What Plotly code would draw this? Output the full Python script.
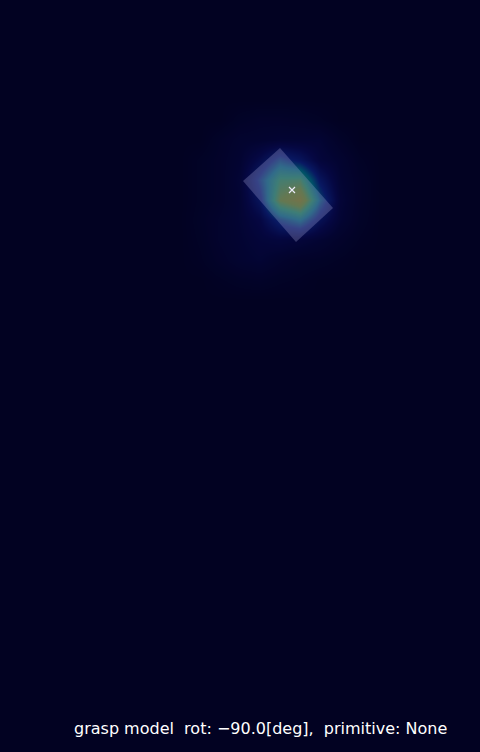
import plotly.graph_objects as go

# heat-map grid (pixel coordinates of the camera image)
grid_x = [180, 200, 220, 240, 260, 280, 300, 320, 340, 360, 380]
grid_y = [100, 120, 140, 160, 180, 200, 220, 240, 260, 280, 300]
heat = [
    [0, 0, 0, 0, 0, 0, 0, 0, 0, 0, 0],
    [0, 0, 0, 0.04, 0.06, 0.06, 0.05, 0.03, 0, 0, 0],
    [0, 0, 0.05, 0.09, 0.10, 0.12, 0.12, 0.12, 0.05, 0, 0],
    [0, 0.03, 0.06, 0.11, 0.24, 0.42, 0.32, 0.16, 0.10, 0.03, 0],
    [0, 0.03, 0.06, 0.13, 0.40, 0.68, 0.70, 0.32, 0.12, 0.05, 0],
    [0, 0.03, 0.06, 0.12, 0.32, 0.80, 0.94, 0.46, 0.14, 0.05, 0],
    [0, 0.04, 0.08, 0.12, 0.20, 0.40, 0.50, 0.28, 0.12, 0.04, 0],
    [0, 0.03, 0.08, 0.11, 0.15, 0.17, 0.15, 0.11, 0.06, 0.02, 0],
    [0, 0.02, 0.06, 0.10, 0.12, 0.08, 0.05, 0.04, 0.02, 0, 0],
    [0, 0, 0.02, 0.04, 0.05, 0.03, 0.02, 0, 0, 0, 0],
    [0, 0, 0, 0, 0, 0, 0, 0, 0, 0, 0],
]

# grasp rectangle corners and grasp point
rect_x = [280, 333, 296, 243]
rect_y = [148, 208, 242, 181]
grasp_x = [292]
grasp_y = [190]
caption = "grasp model\u00a0\u00a0rot: \u221290.0[deg],\u00a0\u00a0primitive: None"

W, H = 480, 752
BG = "rgb(2,2,34)"

fig = go.Figure()
fig.add_trace(go.Heatmap(
    x=grid_x, y=grid_y, z=heat, zsmooth="best", zmin=0, zmax=1,
    showscale=False, hoverinfo="skip",
    colorscale=[
        [0.0, "rgb(2,2,34)"],
        [0.1, "rgb(3,4,48)"],
        [0.2, "rgb(5,7,66)"],
        [0.35, "rgb(8,24,98)"],
        [0.5, "rgb(0,80,104)"],
        [0.65, "rgb(18,105,78)"],
        [0.8, "rgb(70,98,28)"],
        [1.0, "rgb(100,88,12)"],
    ]))
fig.add_trace(go.Scatter(
    x=grasp_x, y=grasp_y, mode="markers",
    marker=dict(symbol="x-thin", size=6, line=dict(width=1.2, color="white"), color="white"),
    hoverinfo="skip", showlegend=False))

path = "M " + " L ".join(f"{x},{y}" for x, y in zip(rect_x, rect_y)) + " Z"
fig.add_shape(type="path", path=path, xref="x", yref="y",
              fillcolor="rgb(180,180,230)", opacity=0.27,
              line=dict(width=0), layer="above")

fig.add_annotation(
    x=260, y=728, xref="x", yref="y", text=caption, showarrow=False,
    font=dict(family="DejaVu Sans", size=16, color="white"),
    xanchor="center", yanchor="middle")

fig.update_xaxes(range=[0, W], visible=False, showgrid=False, zeroline=False)
fig.update_yaxes(range=[H, 0], visible=False, showgrid=False, zeroline=False)
fig.update_layout(
    width=W, height=H, margin=dict(l=0, r=0, t=0, b=0),
    paper_bgcolor=BG, plot_bgcolor=BG, showlegend=False)

fig.write_html("out.html", config={"displayModeBar": False})
